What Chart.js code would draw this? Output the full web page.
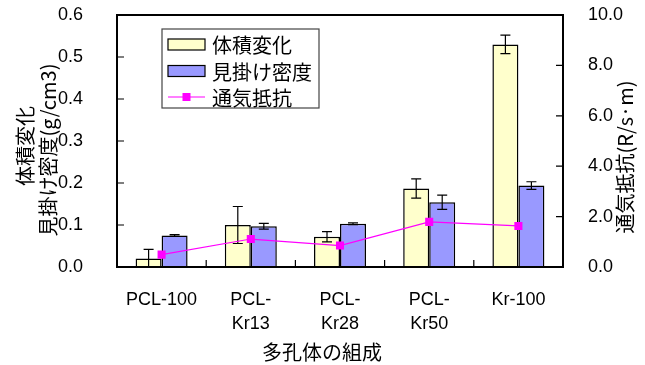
<!DOCTYPE html>
<html>
<head>
<meta charset="utf-8">
<script src="https://cdn.jsdelivr.net/npm/chart.js@4.4.1/dist/chart.umd.min.js"></script>
<style>
  html, body { margin: 0; padding: 0; background: #ffffff; }
  #wrap { width: 645px; height: 365px; position: relative; }
</style>
</head>
<body>
<div id="wrap"><canvas id="c" width="645" height="365"></canvas></div>
<script>
// Sample compositions (x-axis categories)
const categories = [["PCL-100"], ["PCL-", "Kr13"], ["PCL-", "Kr28"], ["PCL-", "Kr50"], ["Kr-100"]];

// Volume change and its error
const volumeChange = [0.020, 0.100, 0.072, 0.187, 0.530];
const volumeChangeErr = [0.022, 0.044, 0.012, 0.023, 0.022];

// Apparent density (g/cm3) and its error
const apparentDensity = [0.075, 0.097, 0.103, 0.154, 0.194];
const apparentDensityErr = [0.002, 0.007, 0.002, 0.017, 0.009];

// Airflow resistance (R/s·m)
const airflowResistance = [0.49, 1.11, 0.85, 1.79, 1.63];

// Axis ticks
const leftTicks = [0, 0.1, 0.2, 0.3, 0.4, 0.5, 0.6];
const rightTicks = [0, 2, 4, 6, 8, 10];

const seriesNames = ["体積変化", "見掛け密度", "通気抵抗"];
const leftTitle = ["体積変化", "見掛け密度(g/cm3)"];
const rightTitle = "通気抵抗(R/s·m)";
const xTitle = "多孔体の組成";

const LATIN = '"Liberation Sans", Arial, "Noto Sans CJK JP", sans-serif';
const CJK = '"Noto Sans CJK JP", "Liberation Sans", sans-serif';

// Error bars, inward tick marks, frame, legend and titles
const decorations = {
  id: 'decorations',
  afterDatasetDraw(chart, args) {
    const ds = chart.data.datasets[args.index];
    if (!ds.errors) return;
    const ctx = chart.ctx;
    const y = chart.scales[ds.yAxisID || 'y'];
    const area = chart.chartArea;
    ctx.save();
    ctx.beginPath();
    ctx.rect(area.left, area.top, area.right - area.left, area.bottom - area.top);
    ctx.clip();
    ctx.strokeStyle = '#000';
    ctx.lineWidth = 1.2;
    args.meta.data.forEach((bar, i) => {
      const v = ds.data[i], e = ds.errors[i];
      const yt = y.getPixelForValue(v + e);
      const yb = y.getPixelForValue(v - e);
      const x = bar.x;
      ctx.beginPath();
      ctx.moveTo(x, yt); ctx.lineTo(x, yb);
      ctx.moveTo(x - 5, yt); ctx.lineTo(x + 5, yt);
      ctx.moveTo(x - 5, yb); ctx.lineTo(x + 5, yb);
      ctx.stroke();
    });
    ctx.restore();
  },
  afterDraw(chart) {
    const ctx = chart.ctx;
    const a = chart.chartArea;
    const xs = chart.scales.x, ys = chart.scales.y, y1 = chart.scales.y1;
    ctx.save();
    ctx.strokeStyle = '#000';
    ctx.lineWidth = 1.2;
    const tl = 7;
    ctx.beginPath();
    leftTicks.forEach(t => {
      const py = ys.getPixelForValue(t);
      ctx.moveTo(a.left, py); ctx.lineTo(a.left + tl, py);
    });
    rightTicks.forEach(t => {
      const py = y1.getPixelForValue(t);
      ctx.moveTo(a.right, py); ctx.lineTo(a.right - tl, py);
    });
    const n = categories.length;
    for (let i = 1; i < n; i++) {
      const px = (xs.getPixelForValue(i - 1) + xs.getPixelForValue(i)) / 2;
      ctx.moveTo(px, a.bottom); ctx.lineTo(px, a.bottom - tl);
    }
    ctx.stroke();

    // plot frame
    ctx.lineWidth = 2;
    ctx.strokeRect(a.left, a.top, a.right - a.left, a.bottom - a.top);

    // legend
    const lx = 162, ly = 29, lw = 157, lh = 79;
    ctx.fillStyle = '#fff';
    ctx.fillRect(lx, ly, lw, lh);
    ctx.lineWidth = 1.2;
    ctx.strokeStyle = '#444';
    ctx.strokeRect(lx, ly, lw, lh);
    const ds = chart.data.datasets;
    const rows = [44.5, 71, 97];
    ctx.font = '20px ' + CJK;
    ctx.textBaseline = 'middle';
    ctx.textAlign = 'left';
    ds.forEach((d, i) => {
      const cy = rows[i];
      if (d.type === 'line') {
        ctx.strokeStyle = d.borderColor;
        ctx.lineWidth = 1.2;
        ctx.beginPath(); ctx.moveTo(168, cy); ctx.lineTo(205, cy); ctx.stroke();
        ctx.fillStyle = d.pointBackgroundColor;
        ctx.fillRect(182.5, cy - 4, 8, 8);
      } else {
        ctx.fillStyle = d.backgroundColor;
        ctx.fillRect(168, cy - 5.5, 37, 11);
        ctx.strokeStyle = '#000';
        ctx.lineWidth = 1.2;
        ctx.strokeRect(168, cy - 5.5, 37, 11);
      }
      ctx.fillStyle = '#000';
      ctx.fillText(d.label, 212, cy + 1);
    });

    // axis titles
    ctx.fillStyle = '#000';
    ctx.textAlign = 'center';
    ctx.textBaseline = 'middle';
    ctx.font = '20px ' + CJK;
    ctx.fillText(xTitle, 322, 352);

    ctx.save();
    ctx.translate(25, 146);
    ctx.rotate(-Math.PI / 2);
    ctx.fillText(leftTitle[0], 0, 0);
    ctx.restore();
    ctx.save();
    ctx.translate(48, 150);
    ctx.rotate(-Math.PI / 2);
    ctx.fillText(leftTitle[1], 0, 0);
    ctx.restore();

    ctx.save();
    ctx.translate(625, 157);
    ctx.rotate(-Math.PI / 2);
    ctx.fillText(rightTitle, 0, 0);
    ctx.restore();

    ctx.restore();
  }
};

new Chart(document.getElementById('c'), {
  data: {
    labels: categories,
    datasets: [
      {
        type: 'bar', label: seriesNames[0], data: volumeChange, errors: volumeChangeErr,
        yAxisID: 'y', backgroundColor: '#FFFFCC', borderColor: '#000', borderWidth: 1.5,
        categoryPercentage: 0.583, barPercentage: 1.0, order: 1
      },
      {
        type: 'bar', label: seriesNames[1], data: apparentDensity, errors: apparentDensityErr,
        yAxisID: 'y', backgroundColor: '#9999FF', borderColor: '#000', borderWidth: 1.5,
        categoryPercentage: 0.583, barPercentage: 1.0, order: 1
      },
      {
        type: 'line', label: seriesNames[2], data: airflowResistance, yAxisID: 'y1',
        borderColor: '#FF00FF', borderWidth: 1.2, pointStyle: 'rect', pointRadius: 5.7,
        pointBackgroundColor: '#FF00FF', pointBorderColor: '#FF00FF', pointBorderWidth: 0,
        tension: 0, fill: false, order: 0
      }
    ]
  },
  options: {
    responsive: false,
    animation: false,
    devicePixelRatio: 1,
    layout: { padding: { top: 15, left: 0, right: 0, bottom: 0 } },
    plugins: { legend: { display: false }, tooltip: { enabled: false }, title: { display: false } },
    scales: {
      x: {
        type: 'category', offset: true,
        grid: { display: false }, border: { display: false },
        ticks: { color: '#000', font: { family: LATIN, size: 18, lineHeight: 1.35 }, padding: 13, maxRotation: 0, autoSkip: false },
        afterFit(s) { s.height = 98; }
      },
      y: {
        position: 'left', min: 0, max: 0.6,
        grid: { display: false }, border: { display: false },
        afterBuildTicks(s) { s.ticks = leftTicks.map(v => ({ value: v })); },
        ticks: { color: '#000', font: { family: LATIN, size: 18, lineHeight: 0.5 }, padding: 26, callback: v => v.toFixed(1) },
        afterFit(s) { s.width = 117; s.paddingTop = 0; s.paddingBottom = 0; }
      },
      y1: {
        position: 'right', min: 0, max: 10,
        grid: { display: false }, border: { display: false },
        afterBuildTicks(s) { s.ticks = rightTicks.map(v => ({ value: v })); },
        ticks: { color: '#000', font: { family: LATIN, size: 18, lineHeight: 0.5 }, padding: 17, callback: v => v.toFixed(1) },
        afterFit(s) { s.width = 82; s.paddingTop = 0; s.paddingBottom = 0; }
      }
    }
  },
  plugins: [decorations]
});
</script>
</body>
</html>
